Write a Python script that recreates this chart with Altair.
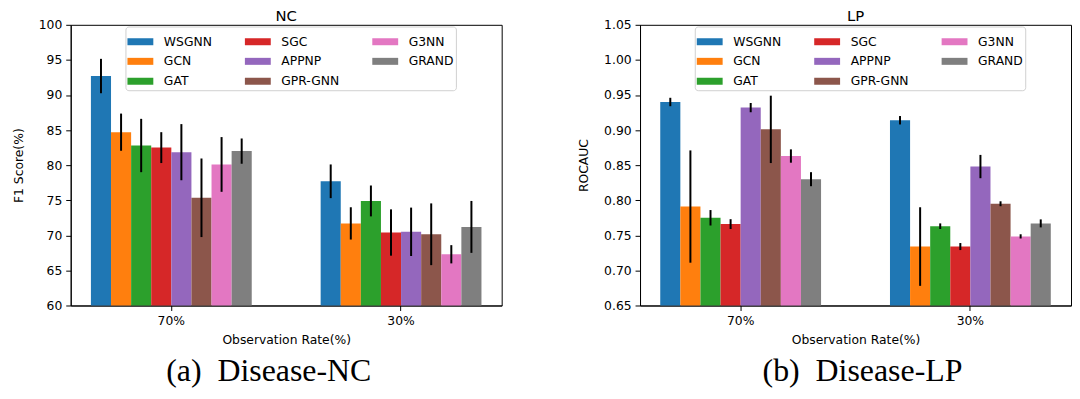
import altair as alt
import pandas as pd

models = ["WSGNN", "GCN", "GAT", "SGC", "APPNP", "GPR-GNN", "G3NN", "GRAND"]
colors = ["#1f77b4", "#ff7f0e", "#2ca02c", "#d62728", "#9467bd", "#8c564b", "#e377c2", "#7f7f7f"]
rates = ["70%", "30%"]

nc_70 = [92.7, 84.7, 82.8, 82.5, 81.85, 75.35, 80.1, 82.0]
nc_70_err = [2.45, 2.65, 3.8, 2.2, 4.0, 5.6, 3.9, 1.8]
nc_30 = [77.7, 71.7, 74.9, 70.4, 70.5, 70.15, 67.3, 71.2]
nc_30_err = [2.4, 2.3, 2.2, 3.3, 3.45, 4.4, 1.3, 3.7]

lp_70 = [0.940, 0.791, 0.775, 0.766, 0.932, 0.901, 0.863, 0.830]
lp_70_err = [0.006, 0.080, 0.011, 0.007, 0.0066, 0.048, 0.0095, 0.010]
lp_30 = [0.914, 0.734, 0.763, 0.734, 0.848, 0.795, 0.7485, 0.767]
lp_30_err = [0.006, 0.056, 0.004, 0.005, 0.0166, 0.0035, 0.003, 0.0057]

nc_ticks = [60, 65, 70, 75, 80, 85, 90, 95, 100]
lp_ticks = [0.65, 0.70, 0.75, 0.80, 0.85, 0.90, 0.95, 1.00, 1.05]

FS = 12.4


def make_df(v70, e70, v30, e30):
    rows = []
    for rate, vals, errs in (("70%", v70, e70), ("30%", v30, e30)):
        for m, v, e in zip(models, vals, errs):
            rows.append({"rate": rate, "model": m, "value": v, "lo": v - e, "hi": v + e})
    return pd.DataFrame(rows)


def panel(df, title, ytitle, ydomain, yvals, fmt, caption, width, cap_x):
    base = alt.Chart(df)
    x = alt.X("rate:N", sort=rates, title="Observation Rate(%)",
              scale=alt.Scale(paddingInner=0.30, paddingOuter=0.088),
              axis=alt.Axis(labelAngle=0, titlePadding=7, labelPadding=4, labelOverlap=False))
    xo = alt.XOffset("model:N", sort=models, scale=alt.Scale(paddingInner=0, paddingOuter=0))
    yscale = alt.Scale(domain=ydomain, nice=False, zero=False)
    yaxis = alt.Axis(values=yvals, format=fmt, grid=False, titlePadding=13,
                     labelPadding=4, labelOverlap=False)
    legend = alt.Legend(
        title=None, orient="none", legendX=55, legendY=1.7, columns=3, values=models,
        columnPadding=33, rowPadding=-1.7,
        symbolType="M-1,-0.27 h2 v0.54 h-2 z", symbolSize=676, symbolStrokeWidth=0,
        symbolOpacity=1, labelOffset=10.6, labelFontSize=FS, labelFont="DejaVu Sans",
        labelColor="black", fillColor="rgba(255,255,255,0.8)", strokeColor="#d0d0d0",
        cornerRadius=3, padding=2,
    )
    bars = base.mark_bar(clip=True).encode(
        x=x, xOffset=xo,
        y=alt.Y("value:Q", title=ytitle, scale=yscale, axis=yaxis),
        color=alt.Color("model:N", scale=alt.Scale(domain=models, range=colors),
                        legend=legend),
    )
    errs = base.mark_rule(color="black", strokeWidth=2).encode(
        x=x, xOffset=xo,
        y=alt.Y("lo:Q", title=ytitle, scale=yscale, axis=yaxis), y2="hi:Q"
    )
    cap = alt.Chart(pd.DataFrame({"t": [caption]})).mark_text(
        font="Liberation Serif", fontSize=32, color="black", align="center", baseline="middle"
    ).encode(text="t:N", x=alt.value(cap_x), y=alt.value(347.5))
    return alt.layer(bars, errs, cap).properties(
        width=width, height=282,
        title=alt.TitleParams(title, fontSize=14.9, font="DejaVu Sans", fontWeight="normal",
                              offset=-5.5),
    )


nc = panel(make_df(nc_70, nc_70_err, nc_30, nc_30_err), "NC", "F1 Score(%)",
           [60, 100], nc_ticks, "d", "(a)\u00a0\u00a0Disease-NC", 433, 199)
lp = panel(make_df(lp_70, lp_70_err, lp_30, lp_30_err), "LP", "ROCAUC",
           [0.65, 1.05], lp_ticks, ".2f", "(b)\u00a0\u00a0Disease-LP", 433, 223.5)

chart = alt.hconcat(nc, lp, spacing=74).resolve_scale(
    color="independent", y="independent", x="independent"
).resolve_legend(color="independent").properties(
    padding={"left": 3, "top": 0, "right": 0, "bottom": 0}
).configure_view(stroke="black", strokeWidth=1).configure_axis(
    labelFont="DejaVu Sans", titleFont="DejaVu Sans", labelFontSize=FS, titleFontSize=FS,
    titleFontWeight="normal", labelColor="black", titleColor="black",
    tickColor="black", domainColor="black", tickSize=5,
)

chart.save("out.html", embed_options={"renderer": "svg", "actions": False})
